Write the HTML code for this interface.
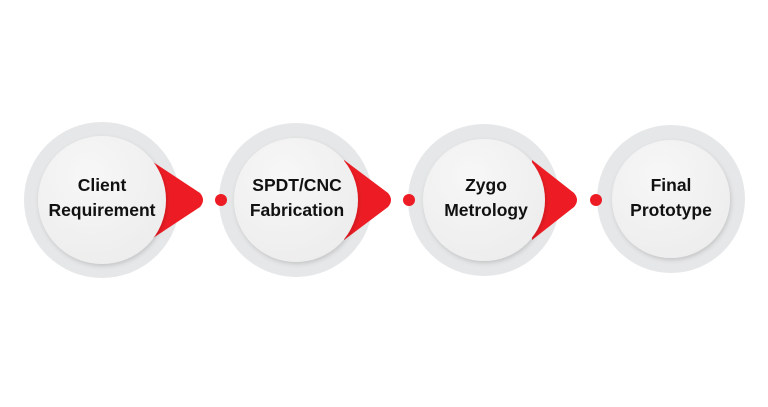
<!DOCTYPE html>
<html><head><style>body{margin:0;background:#fff;width:768px;height:402px;overflow:hidden}</style></head>
<body>
<svg width="768" height="402" viewBox="0 0 768 402" xmlns="http://www.w3.org/2000/svg">
<defs>
<radialGradient id="g" cx="0.4" cy="0.3" r="0.8"><stop offset="0" stop-color="#f7f7f7"/><stop offset="1" stop-color="#ececec"/></radialGradient>
<filter id="s" x="-20%" y="-20%" width="140%" height="140%"><feDropShadow dx="1" dy="2" stdDeviation="2" flood-color="#000" flood-opacity="0.15"/></filter>
</defs>
<g font-family="Liberation Sans, sans-serif" font-weight="bold" font-size="17.5" fill="#111" text-anchor="middle">
<circle cx="102" cy="200" r="78" fill="#e6e7e8"/>
<path d="M150,160 L200,193 Q206,200 200,207 L150,240 Z" fill="#ed1c24"/>
<circle cx="102" cy="200" r="64" fill="url(#g)" filter="url(#s)"/>
<text x="102" y="191">Client</text><text x="102" y="216">Requirement</text>

<circle cx="296" cy="200" r="77" fill="#e6e7e8"/>
<path d="M344,160 L388,193 Q394,200 388,207 L344,240 Z" fill="#ed1c24"/>
<circle cx="296" cy="200" r="62" fill="url(#g)" filter="url(#s)"/>
<text x="297" y="191">SPDT/CNC</text><text x="297" y="216">Fabrication</text>

<circle cx="484" cy="200" r="76" fill="#e6e7e8"/>
<path d="M532,160 L574,193 Q580,200 574,207 L532,240 Z" fill="#ed1c24"/>
<circle cx="484" cy="200" r="61" fill="url(#g)" filter="url(#s)"/>
<text x="486" y="191">Zygo</text><text x="486" y="216">Metrology</text>

<circle cx="671" cy="199" r="74" fill="#e6e7e8"/>
<circle cx="671" cy="199" r="59" fill="url(#g)" filter="url(#s)"/>
<text x="671" y="191">Final</text><text x="671" y="216">Prototype</text>

<circle cx="221" cy="200" r="6" fill="#ed1c24"/>
<circle cx="409" cy="200" r="6" fill="#ed1c24"/>
<circle cx="596" cy="200" r="6" fill="#ed1c24"/>
</g>
</svg>
</body></html>
